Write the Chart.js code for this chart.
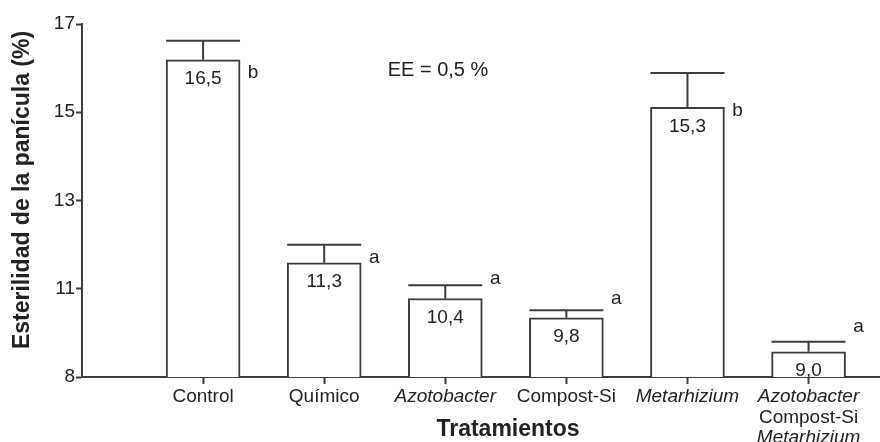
<!DOCTYPE html>
<html><head><meta charset="utf-8">
<script src="https://cdn.jsdelivr.net/npm/chart.js@4/dist/chart.umd.min.js"></script>
<style>html,body{margin:0;padding:0;background:#fff}#wrap{width:880px;height:442px}</style>
</head><body><div id="wrap"><canvas id="c" width="880" height="442"></canvas></div>
<script>
// ---- data ----
const categories = [["Control"],["Químico"],["Azotobacter"],["Compost-Si"],["Metarhizium"],["Azotobacter","Compost-Si","Metarhizium"]];
const italicTerms = ["Azotobacter","Metarhizium"];
const values = [16.19, 11.59, 10.78, 10.34, 15.11, 9.57];
const errors = [0.43, 0.41, 0.30, 0.17, 0.78, 0.23];
const valueLabels = ["16,5","11,3","10,4","9,8","15,3","9,0"];
const groupLetters = ["b","a","a","a","b","a"];
const letterLevels = [15.90, 11.71, 11.23, 10.78, 15.04, 10.13];
const yTickValues = [9, 11, 13, 15, 17];
const yTickLabels = ["8", "11", "13", "15", "17"];
const yTitle = "Esterilidad de la panícula (%)";
const xTitle = "Tratamientos";
const note = "EE = 0,5 %";

const FAM = '"Liberation Sans", Arial, Helvetica, sans-serif';
const LINE = '#3c3c3c';
const TXT = '#222222';

const overlay = {
  id: 'overlay',
  afterDraw(chart) {
    const ctx = chart.ctx;
    const ys = chart.scales.y;
    const meta = chart.getDatasetMeta(0);
    ctx.save();
    ctx.strokeStyle = LINE;
    ctx.lineWidth = 2;
    ctx.fillStyle = TXT;
    meta.data.forEach((el, i) => {
      const x = el.x, w = el.width, top = el.y, base = el.base;
      const capY = ys.getPixelForValue(values[i] + errors[i]);
      ctx.beginPath();
      ctx.moveTo(x, top); ctx.lineTo(x, capY);
      ctx.moveTo(x - w / 2, capY); ctx.lineTo(x + w / 2, capY);
      ctx.stroke();
      ctx.font = '19px ' + FAM;
      ctx.textAlign = 'center';
      ctx.textBaseline = 'middle';
      ctx.fillText(valueLabels[i], x, Math.min(top + 19, (top + base) / 2 - 2));
      ctx.fillText(groupLetters[i], x + w / 2 + 13, ys.getPixelForValue(letterLevels[i]));
      categories[i].forEach((line, j) => {
        ctx.font = (italicTerms.includes(line) ? 'italic ' : '') + '19px ' + FAM;
        ctx.fillText(line, x, 397 + j * 20.5);
      });
    });
    ctx.font = '20px ' + FAM;
    ctx.fillText(note, 438, 70);
    ctx.font = 'bold 23px ' + FAM;
    ctx.fillText(xTitle, 508, 430);
    ctx.translate(23, 190);
    ctx.rotate(-Math.PI / 2);
    ctx.fillText(yTitle, 0, 0);
    ctx.restore();
  }
};

new Chart(document.getElementById('c'), {
  type: 'bar',
  data: {
    datasets: [{
      data: values.map((v, i) => ({ x: i + 1, y: v })),
      backgroundColor: '#ffffff',
      borderColor: LINE,
      borderWidth: 2,
      borderSkipped: 'bottom',
      barThickness: 74
    }]
  },
  options: {
    responsive: false,
    animation: false,
    devicePixelRatio: 1,
    layout: { padding: { top: 24, right: 0, left: 0, bottom: 0 } },
    plugins: { legend: { display: false }, tooltip: { enabled: false } },
    scales: {
      x: {
        type: 'linear', min: 0, max: 6.59, offset: false,
        afterBuildTicks: s => { s.ticks = categories.map((c, i) => ({ value: i + 1 })); },
        afterFit: s => { s.height = 65; },
        ticks: { callback: () => '', autoSkip: false, font: { size: 2 } },
        grid: { offset: false, drawOnChartArea: false, drawTicks: true, tickLength: 7, tickColor: LINE, tickWidth: 2 },
        border: { display: true, color: LINE, width: 2 }
      },
      y: {
        type: 'linear', min: 9, max: 17,
        afterBuildTicks: s => { s.ticks = yTickValues.map(v => ({ value: v })); },
        afterFit: s => { s.width = 82; },
        ticks: {
          callback: v => yTickLabels[yTickValues.indexOf(v)],
          font: { size: 19, family: FAM }, color: TXT, padding: 1, autoSkip: false
        },
        grid: { drawOnChartArea: false, drawTicks: true, tickLength: 6, tickColor: LINE, tickWidth: 2 },
        border: { display: true, color: LINE, width: 2 }
      }
    }
  },
  plugins: [overlay]
});
</script></body></html>
